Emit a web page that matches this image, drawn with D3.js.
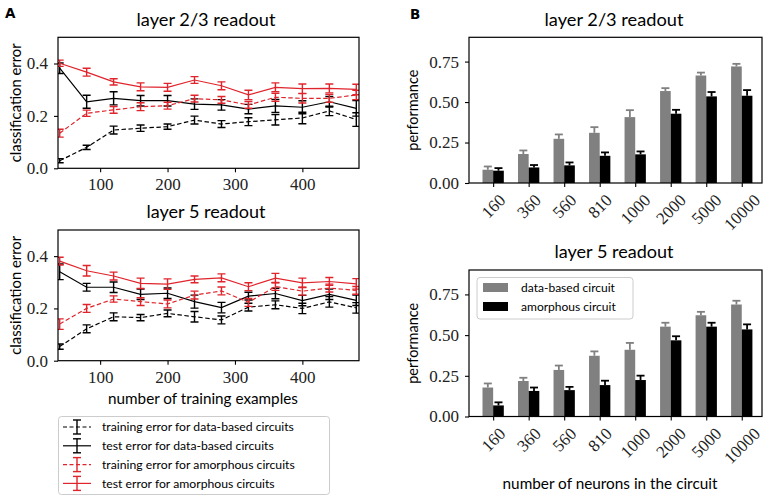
<!DOCTYPE html>
<html><head><meta charset="utf-8">
<script src="https://cdn.jsdelivr.net/npm/d3@7"></script>
<style>
body{margin:0;background:#fff;}
svg{display:block;}
</style></head>
<body>
<svg id="chart" width="767" height="499"></svg>
<script>
// ---------- data ----------
const trainingExamples = [40, 80, 120, 160, 200, 240, 280, 320, 360, 400, 440, 480];
const xTicksLeft = [100, 200, 300, 400];
const yTicksLeft = [0.0, 0.2, 0.4];

// layer 2/3 readout (classification error)
const l23TrainData    = [0.029, 0.080, 0.146, 0.153, 0.159, 0.184, 0.169, 0.178, 0.185, 0.192, 0.219, 0.186];
const l23TrainDataErr = [0.008, 0.008, 0.015, 0.012, 0.010, 0.015, 0.013, 0.015, 0.020, 0.022, 0.018, 0.026];
const l23TestData     = [0.382, 0.254, 0.267, 0.258, 0.258, 0.245, 0.242, 0.226, 0.238, 0.233, 0.254, 0.229];
const l23TestDataErr  = [0.020, 0.025, 0.025, 0.020, 0.020, 0.020, 0.020, 0.018, 0.025, 0.025, 0.020, 0.030];
const l23TrainAmor    = [0.134, 0.210, 0.223, 0.235, 0.239, 0.266, 0.261, 0.242, 0.271, 0.267, 0.267, 0.280];
const l23TrainAmorErr = [0.015, 0.012, 0.013, 0.015, 0.013, 0.013, 0.013, 0.013, 0.015, 0.018, 0.015, 0.018];
const l23TestAmor     = [0.401, 0.367, 0.330, 0.311, 0.309, 0.337, 0.315, 0.280, 0.309, 0.304, 0.305, 0.301];
const l23TestAmorErr  = [0.012, 0.015, 0.012, 0.015, 0.015, 0.013, 0.015, 0.018, 0.017, 0.018, 0.017, 0.020];

// layer 5 readout (classification error)
const l5TrainData    = [0.054, 0.122, 0.168, 0.165, 0.181, 0.168, 0.156, 0.205, 0.214, 0.200, 0.225, 0.202];
const l5TrainDataErr = [0.010, 0.015, 0.015, 0.012, 0.013, 0.020, 0.015, 0.015, 0.015, 0.020, 0.020, 0.020];
const l5TestData     = [0.340, 0.281, 0.281, 0.254, 0.258, 0.226, 0.203, 0.247, 0.257, 0.230, 0.254, 0.231];
const l5TestDataErr  = [0.030, 0.015, 0.020, 0.020, 0.020, 0.025, 0.020, 0.015, 0.020, 0.020, 0.020, 0.020];
const l5TrainAmor    = [0.140, 0.200, 0.236, 0.226, 0.217, 0.251, 0.267, 0.223, 0.284, 0.266, 0.278, 0.269];
const l5TrainAmorErr = [0.020, 0.015, 0.012, 0.015, 0.015, 0.015, 0.015, 0.015, 0.015, 0.015, 0.015, 0.015];
const l5TestAmor     = [0.381, 0.344, 0.324, 0.296, 0.293, 0.311, 0.317, 0.283, 0.316, 0.298, 0.303, 0.294];
const l5TestAmorErr  = [0.015, 0.020, 0.015, 0.020, 0.020, 0.013, 0.015, 0.015, 0.018, 0.018, 0.015, 0.020];

// performance vs circuit size
const neurons = ["160", "360", "560", "810", "1000", "2000", "5000", "10000"];
const yTicksRight = [0.00, 0.25, 0.50, 0.75];
const l23DataBased    = [0.082, 0.179, 0.273, 0.310, 0.407, 0.568, 0.664, 0.720];
const l23DataBasedErr = [0.020, 0.022, 0.027, 0.035, 0.043, 0.018, 0.018, 0.016];
const l23Amorphous    = [0.076, 0.096, 0.109, 0.168, 0.177, 0.428, 0.535, 0.539];
const l23AmorphousErr = [0.016, 0.015, 0.018, 0.021, 0.018, 0.024, 0.027, 0.035];
const l5DataBased     = [0.178, 0.218, 0.286, 0.373, 0.410, 0.552, 0.622, 0.688];
const l5DataBasedErr  = [0.025, 0.020, 0.027, 0.027, 0.042, 0.024, 0.021, 0.023];
const l5Amorphous     = [0.068, 0.157, 0.162, 0.193, 0.224, 0.468, 0.552, 0.535];
const l5AmorphousErr  = [0.019, 0.021, 0.020, 0.027, 0.027, 0.025, 0.024, 0.031];

const lineLegend = [
  "training error for data-based circuits",
  "test error for data-based circuits",
  "training error for amorphous circuits",
  "test error for amorphous circuits"
];
const barLegend = ["data-based circuit", "amorphous circuit"];

// ---------- styles ----------
const RED = "#e0242b";
const GRAY = "#808080";
const SANS = "Lato, 'DejaVu Sans', sans-serif";
const SERIF = "'Liberation Serif', 'DejaVu Serif', serif";
const TICKFS = 17;

const svg = d3.select("#chart");

// scale a text's font size so that its rendered width matches the reference width
function fit(sel, target) {
  const n = sel.node();
  const base = parseFloat(sel.attr("font-size"));
  const w = n.getComputedTextLength();
  if (w > 0) sel.attr("font-size", (base * target / w).toFixed(2));
  return sel;
}

function frame(g, x0, x1, y0, y1) {
  g.append("rect").attr("x", x0).attr("y", y0).attr("width", x1 - x0).attr("height", y1 - y0)
    .attr("fill", "none").attr("stroke", "#000").attr("stroke-width", 1.2);
}
function styleAxis(a) {
  a.select(".domain").remove();
  a.selectAll(".tick line").attr("stroke", "#000").attr("stroke-width", 1.1);
  a.selectAll(".tick text").attr("font-family", SERIF).attr("font-size", TICKFS).attr("fill", "#222");
}

// ---------- left panels ----------
function linePanel(cfg) {
  const x = d3.scaleLinear().domain([37.5, 484]).range([58, 359]);
  const y = d3.scaleLinear().domain([0, 0.5]).range([cfg.bottom, cfg.top]);
  const g = svg.append("g");

  const series = [
    {v: cfg.trainData, e: cfg.trainDataErr, c: "#000", dash: "4.5,2.5"},
    {v: cfg.testData, e: cfg.testDataErr, c: "#000", dash: null},
    {v: cfg.trainAmor, e: cfg.trainAmorErr, c: RED, dash: "4.5,2.5"},
    {v: cfg.testAmor, e: cfg.testAmorErr, c: RED, dash: null}
  ];
  const line = d3.line().x((d, i) => x(trainingExamples[i])).y(d => y(d));
  const clip = "clip" + Math.round(cfg.top);
  g.append("clipPath").attr("id", clip).append("rect")
    .attr("x", 58).attr("y", cfg.top).attr("width", 301).attr("height", cfg.bottom - cfg.top);
  const inner = g.append("g").attr("clip-path", `url(#${clip})`);
  series.forEach(s => {
    inner.append("path").attr("d", line(s.v)).attr("fill", "none").attr("stroke", s.c)
      .attr("stroke-width", 1.2).attr("stroke-dasharray", s.dash);
    const eb = inner.append("g").attr("stroke", s.c).attr("stroke-width", 1.4);
    s.v.forEach((v, i) => {
      const cx = x(trainingExamples[i]);
      const lo = y(v - s.e[i]), hi = y(v + s.e[i]);
      eb.append("line").attr("x1", cx).attr("x2", cx).attr("y1", lo).attr("y2", hi);
      eb.append("line").attr("x1", cx - 4).attr("x2", cx + 4).attr("y1", lo).attr("y2", lo);
      eb.append("line").attr("x1", cx - 4).attr("x2", cx + 4).attr("y1", hi).attr("y2", hi);
    });
  });

  const ax = g.append("g").attr("transform", `translate(0,${cfg.bottom})`)
    .call(d3.axisBottom(x).tickValues(xTicksLeft).tickSize(4).tickPadding(6).tickFormat(d3.format("d")));
  styleAxis(ax);
  const ay = g.append("g").attr("transform", "translate(58,0)")
    .call(d3.axisLeft(y).tickValues(yTicksLeft).tickSize(4).tickPadding(6).tickFormat(d3.format(".1f")));
  styleAxis(ay);
  frame(g, 58, 359, cfg.top, cfg.bottom);

  fit(g.append("text").attr("x", 206).attr("y", cfg.titleY).attr("text-anchor", "middle")
    .attr("font-family", SANS).attr("font-size", 18).text(cfg.title), cfg.titleW);
  fit(g.append("text").attr("transform", `translate(21,${(cfg.top + cfg.bottom) / 2}) rotate(-90)`)
    .attr("text-anchor", "middle").attr("font-family", SANS).attr("font-size", 15)
    .text("classification error"), 119);
}

linePanel({top: 37.3, bottom: 168.3, titleY: 26, title: "layer 2/3 readout", titleW: 139,
  trainData: l23TrainData, trainDataErr: l23TrainDataErr, testData: l23TestData, testDataErr: l23TestDataErr,
  trainAmor: l23TrainAmor, trainAmorErr: l23TrainAmorErr, testAmor: l23TestAmor, testAmorErr: l23TestAmorErr});
linePanel({top: 230, bottom: 360.7, titleY: 218, title: "layer 5 readout", titleW: 119,
  trainData: l5TrainData, trainDataErr: l5TrainDataErr, testData: l5TestData, testDataErr: l5TestDataErr,
  trainAmor: l5TrainAmor, trainAmorErr: l5TrainAmorErr, testAmor: l5TestAmor, testAmorErr: l5TestAmorErr});

fit(svg.append("text").attr("x", 203).attr("y", 404).attr("text-anchor", "middle")
  .attr("font-family", SANS).attr("font-size", 17).text("number of training examples"), 190);

// left legend
{
  const lg = svg.append("g");
  lg.append("rect").attr("x", 58.5).attr("y", 416.5).attr("width", 271).attr("height", 78)
    .attr("rx", 3).attr("fill", "#fff").attr("stroke", "#cccccc").attr("stroke-width", 1);
  const cols = ["#000", "#000", RED, RED];
  const dashes = ["4,2.5", null, "4,2.5", null];
  let legendFs = 12.5;
  lineLegend.forEach((t, i) => {
    const yy = 427 + i * 18.8;
    lg.append("line").attr("x1", 63).attr("x2", 91).attr("y1", yy).attr("y2", yy)
      .attr("stroke", cols[i]).attr("stroke-width", 1.2).attr("stroke-dasharray", dashes[i]);
    const eb = lg.append("g").attr("stroke", cols[i]).attr("stroke-width", 1.4);
    eb.append("line").attr("x1", 77).attr("x2", 77).attr("y1", yy - 7).attr("y2", yy + 7);
    eb.append("line").attr("x1", 73).attr("x2", 81).attr("y1", yy - 7).attr("y2", yy - 7);
    eb.append("line").attr("x1", 73).attr("x2", 81).attr("y1", yy + 7).attr("y2", yy + 7);
    const tx = lg.append("text").attr("x", 102).attr("y", yy).attr("dy", "0.35em")
      .attr("font-family", SANS).attr("font-size", legendFs).text(t);
    if (i === 0) { fit(tx, 192); legendFs = parseFloat(tx.attr("font-size")); }
  });
}

// ---------- right panels ----------
function barPanel(cfg) {
  const x = d3.scaleLinear().domain([-0.68, 7.57]).range([469, 762]);
  const y = d3.scaleLinear().domain([0, 0.9]).range([cfg.bottom, cfg.top]);
  const g = svg.append("g");
  const bw = 0.3;
  const groups = [
    {v: cfg.dataBased, e: cfg.dataBasedErr, c: GRAY, off: -bw},
    {v: cfg.amorphous, e: cfg.amorphousErr, c: "#000", off: 0}
  ];
  groups.forEach(s => {
    s.v.forEach((v, i) => {
      const x0 = x(i + s.off), x1 = x(i + s.off + bw);
      g.append("rect").attr("x", x0).attr("y", y(v)).attr("width", x1 - x0).attr("height", y(0) - y(v))
        .attr("fill", s.c);
      const cx = (x0 + x1) / 2;
      g.append("line").attr("x1", cx).attr("x2", cx).attr("y1", y(v)).attr("y2", y(v + s.e[i]))
        .attr("stroke", s.c).attr("stroke-width", 1.8);
      g.append("line").attr("x1", cx - 4).attr("x2", cx + 4).attr("y1", y(v + s.e[i])).attr("y2", y(v + s.e[i]))
        .attr("stroke", s.c).attr("stroke-width", 1.8);
    });
  });

  const ax = g.append("g").attr("transform", `translate(0,${cfg.bottom})`)
    .call(d3.axisBottom(x).tickValues(d3.range(neurons.length)).tickSize(4).tickFormat(i => neurons[i]));
  styleAxis(ax);
  ax.selectAll(".tick text").each(function () {
    const t = d3.select(this);
    const w = this.getComputedTextLength();
    const h = TICKFS * 0.72;
    const half = (w + h) * Math.SQRT1_2 / 2;
    t.attr("y", null).attr("dy", "0.32em").attr("text-anchor", "middle")
      .attr("transform", `translate(0,${10 + half}) rotate(-45)`);
  });
  const ay = g.append("g").attr("transform", "translate(469,0)")
    .call(d3.axisLeft(y).tickValues(yTicksRight).tickSize(4).tickPadding(6).tickFormat(d3.format(".2f")));
  styleAxis(ay);
  frame(g, 469, 762, cfg.top, cfg.bottom);

  fit(g.append("text").attr("x", 614).attr("y", cfg.titleY).attr("text-anchor", "middle")
    .attr("font-family", SANS).attr("font-size", 18).text(cfg.title), cfg.titleW);
  fit(g.append("text").attr("transform", `translate(418,${(cfg.top + cfg.bottom) / 2}) rotate(-90)`)
    .attr("text-anchor", "middle").attr("font-family", SANS).attr("font-size", 15)
    .text("performance"), 81);
}

barPanel({top: 37.3, bottom: 183, titleY: 26, title: "layer 2/3 readout", titleW: 139,
  dataBased: l23DataBased, dataBasedErr: l23DataBasedErr, amorphous: l23Amorphous, amorphousErr: l23AmorphousErr});
barPanel({top: 270, bottom: 416.5, titleY: 258, title: "layer 5 readout", titleW: 119,
  dataBased: l5DataBased, dataBasedErr: l5DataBasedErr, amorphous: l5Amorphous, amorphousErr: l5AmorphousErr});

fit(svg.append("text").attr("x", 610).attr("y", 489).attr("text-anchor", "middle")
  .attr("font-family", SANS).attr("font-size", 17).text("number of neurons in the circuit"), 215);

// right legend
{
  const lg = svg.append("g");
  lg.append("rect").attr("x", 477).attr("y", 277.5).attr("width", 156).attr("height", 41.5)
    .attr("rx", 3).attr("fill", "#fff").attr("fill-opacity", 0.85).attr("stroke", "#cccccc");
  let fs = 13.5;
  [GRAY, "#000"].forEach((c, i) => {
    const yy = 287.5 + i * 19;
    lg.append("rect").attr("x", 483).attr("y", yy - 4.5).attr("width", 25).attr("height", 9).attr("fill", c);
    const tx = lg.append("text").attr("x", 521).attr("y", yy).attr("dy", "0.35em")
      .attr("font-family", SANS).attr("font-size", fs).text(barLegend[i]);
    if (i === 0) { fit(tx, 94); fs = parseFloat(tx.attr("font-size")); }
  });
}

// panel letters
svg.append("text").attr("x", 5).attr("y", 18).attr("font-family", "'DejaVu Sans', sans-serif")
  .attr("font-weight", "bold").attr("font-size", 13.5).text("A");
svg.append("text").attr("x", 410).attr("y", 19).attr("font-family", "'DejaVu Sans', sans-serif")
  .attr("font-weight", "bold").attr("font-size", 13.5).text("B");
</script>
</body></html>
